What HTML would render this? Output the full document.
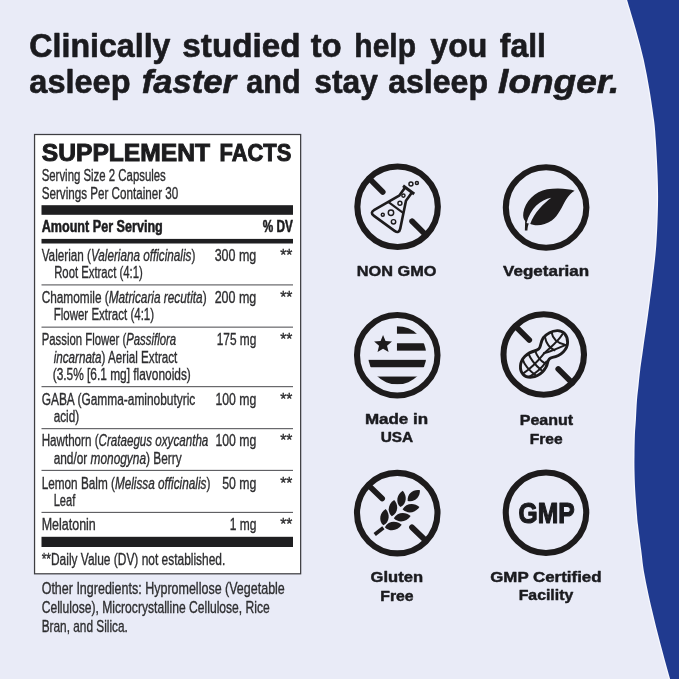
<!DOCTYPE html>
<html lang="en"><head><meta charset="utf-8"><title>Supplement Facts</title>
<style>
html,body{margin:0;padding:0;background:#e9ebf7;}
body{width:679px;height:679px;overflow:hidden;}
svg{display:block;font-family:"Liberation Sans",sans-serif;}
</style></head><body>
<svg width="679" height="679" viewBox="0 0 679 679">
<rect width="679" height="679" fill="#e9ebf7"/>
<path d="M 627.10 0.00 C 628.58 5.00 633.22 20.00 636.00 30.00 C 638.78 40.00 641.55 50.00 643.80 60.00 C 646.05 70.00 647.80 80.00 649.50 90.00 C 651.20 100.00 652.95 111.67 654.00 120.00 C 655.05 128.33 655.20 130.83 655.80 140.00 C 656.40 149.17 657.23 164.17 657.60 175.00 C 657.97 185.83 658.22 193.33 658.00 205.00 C 657.78 216.67 657.20 232.50 656.30 245.00 C 655.40 257.50 653.65 270.83 652.60 280.00 C 651.55 289.17 650.77 294.17 650.00 300.00 C 649.23 305.83 649.17 306.67 648.00 315.00 C 646.83 323.33 644.30 340.83 643.00 350.00 C 641.70 359.17 640.93 364.17 640.20 370.00 C 639.47 375.83 639.13 380.00 638.60 385.00 C 638.07 390.00 637.45 394.17 637.00 400.00 C 636.55 405.83 636.25 414.17 635.90 420.00 C 635.55 425.83 635.13 429.17 634.90 435.00 C 634.67 440.83 634.57 449.17 634.50 455.00 C 634.43 460.83 634.38 464.17 634.50 470.00 C 634.62 475.83 634.78 482.50 635.20 490.00 C 635.62 497.50 636.53 509.17 637.00 515.00 C 637.47 520.83 637.30 519.17 638.00 525.00 C 638.70 530.83 640.13 541.83 641.20 550.00 C 642.27 558.17 642.63 564.17 644.40 574.00 C 646.17 583.83 649.12 597.33 651.80 609.00 C 654.48 620.67 657.45 632.33 660.50 644.00 C 663.55 655.67 668.50 673.17 670.10 679.00" fill="none" stroke="#f7f8fe" stroke-width="2.6"/>
<path d="M 627.10 0.00 C 628.58 5.00 633.22 20.00 636.00 30.00 C 638.78 40.00 641.55 50.00 643.80 60.00 C 646.05 70.00 647.80 80.00 649.50 90.00 C 651.20 100.00 652.95 111.67 654.00 120.00 C 655.05 128.33 655.20 130.83 655.80 140.00 C 656.40 149.17 657.23 164.17 657.60 175.00 C 657.97 185.83 658.22 193.33 658.00 205.00 C 657.78 216.67 657.20 232.50 656.30 245.00 C 655.40 257.50 653.65 270.83 652.60 280.00 C 651.55 289.17 650.77 294.17 650.00 300.00 C 649.23 305.83 649.17 306.67 648.00 315.00 C 646.83 323.33 644.30 340.83 643.00 350.00 C 641.70 359.17 640.93 364.17 640.20 370.00 C 639.47 375.83 639.13 380.00 638.60 385.00 C 638.07 390.00 637.45 394.17 637.00 400.00 C 636.55 405.83 636.25 414.17 635.90 420.00 C 635.55 425.83 635.13 429.17 634.90 435.00 C 634.67 440.83 634.57 449.17 634.50 455.00 C 634.43 460.83 634.38 464.17 634.50 470.00 C 634.62 475.83 634.78 482.50 635.20 490.00 C 635.62 497.50 636.53 509.17 637.00 515.00 C 637.47 520.83 637.30 519.17 638.00 525.00 C 638.70 530.83 640.13 541.83 641.20 550.00 C 642.27 558.17 642.63 564.17 644.40 574.00 C 646.17 583.83 649.12 597.33 651.80 609.00 C 654.48 620.67 657.45 632.33 660.50 644.00 C 663.55 655.67 668.50 673.17 670.10 679.00 L 679 679 L 679 0 Z" fill="#203a8f"/>
<text x="29.34" y="56.90" font-size="32.90" font-weight="bold" fill="#1b1b1f" stroke="#1b1b1f" stroke-width="0.63" stroke-linejoin="round" textLength="141.18" lengthAdjust="spacingAndGlyphs">Clinically</text>
<text x="182.34" y="56.90" font-size="32.90" font-weight="bold" fill="#1b1b1f" stroke="#1b1b1f" stroke-width="0.63" stroke-linejoin="round" textLength="118.18" lengthAdjust="spacingAndGlyphs">studied</text>
<text x="310.84" y="56.90" font-size="32.90" font-weight="bold" fill="#1b1b1f" stroke="#1b1b1f" stroke-width="0.63" stroke-linejoin="round" textLength="30.68" lengthAdjust="spacingAndGlyphs">to</text>
<text x="354.34" y="56.90" font-size="32.90" font-weight="bold" fill="#1b1b1f" stroke="#1b1b1f" stroke-width="0.63" stroke-linejoin="round" textLength="61.68" lengthAdjust="spacingAndGlyphs">help</text>
<text x="430.34" y="56.90" font-size="32.90" font-weight="bold" fill="#1b1b1f" stroke="#1b1b1f" stroke-width="0.63" stroke-linejoin="round" textLength="56.98" lengthAdjust="spacingAndGlyphs">you</text>
<text x="499.84" y="56.90" font-size="32.90" font-weight="bold" fill="#1b1b1f" stroke="#1b1b1f" stroke-width="0.63" stroke-linejoin="round" textLength="46.18" lengthAdjust="spacingAndGlyphs">fall</text>
<text x="29.34" y="92.90" font-size="32.90" font-weight="bold" fill="#1b1b1f" stroke="#1b1b1f" stroke-width="0.63" stroke-linejoin="round" textLength="101.18" lengthAdjust="spacingAndGlyphs">asleep</text>
<text x="141.84" y="92.90" font-size="32.90" font-weight="bold" font-style="italic" fill="#1b1b1f" stroke="#1b1b1f" stroke-width="0.63" stroke-linejoin="round" textLength="94.18" lengthAdjust="spacingAndGlyphs">faster</text>
<text x="246.34" y="92.90" font-size="32.90" font-weight="bold" fill="#1b1b1f" stroke="#1b1b1f" stroke-width="0.63" stroke-linejoin="round" textLength="54.18" lengthAdjust="spacingAndGlyphs">and</text>
<text x="314.34" y="92.90" font-size="32.90" font-weight="bold" fill="#1b1b1f" stroke="#1b1b1f" stroke-width="0.63" stroke-linejoin="round" textLength="63.68" lengthAdjust="spacingAndGlyphs">stay</text>
<text x="388.14" y="92.90" font-size="32.90" font-weight="bold" fill="#1b1b1f" stroke="#1b1b1f" stroke-width="0.63" stroke-linejoin="round" textLength="99.88" lengthAdjust="spacingAndGlyphs">asleep</text>
<text x="498.14" y="92.90" font-size="32.90" font-weight="bold" font-style="italic" fill="#1b1b1f" stroke="#1b1b1f" stroke-width="0.63" stroke-linejoin="round" textLength="121.18" lengthAdjust="spacingAndGlyphs">longer.</text>
<rect x="34.55" y="134.5" width="266.1" height="439.3" fill="#ffffff" stroke="#3e3e42" stroke-width="1.25"/>
<text x="41.80" y="160.70" font-size="24.80" font-weight="bold" fill="#1c1c1e" stroke="#1c1c1e" stroke-width="1.00" textLength="168.19" lengthAdjust="spacingAndGlyphs">SUPPLEMENT</text>
<text x="219.50" y="160.70" font-size="24.80" font-weight="bold" fill="#1c1c1e" stroke="#1c1c1e" stroke-width="1.00" textLength="71.79" lengthAdjust="spacingAndGlyphs">FACTS</text>
<text x="41.68" y="181.25" font-size="16.00" font-weight="normal" fill="#2e2e30" stroke="#2e2e30" stroke-width="0.35" textLength="124.14" lengthAdjust="spacingAndGlyphs">Serving Size 2 Capsules</text>
<text x="41.68" y="198.75" font-size="16.00" font-weight="normal" fill="#2e2e30" stroke="#2e2e30" stroke-width="0.35" textLength="136.64" lengthAdjust="spacingAndGlyphs">Servings Per Container 30</text>
<rect x="41.50" y="205.20" width="251.50" height="9.60" fill="#1f1f21"/>
<text x="41.68" y="232.00" font-size="15.80" font-weight="bold" fill="#1c1c1e" stroke="#1c1c1e" stroke-width="0.55" textLength="121.13" lengthAdjust="spacingAndGlyphs">Amount Per Serving</text>
<text x="262.68" y="232.00" font-size="15.80" font-weight="bold" fill="#1c1c1e" stroke="#1c1c1e" stroke-width="0.55" textLength="30.13" lengthAdjust="spacingAndGlyphs">% DV</text>
<rect x="41.50" y="238.90" width="251.50" height="4.60" fill="#1f1f21"/>
<text x="41.68" y="261.25" font-size="16.00" font-weight="normal" fill="#2e2e30" stroke="#2e2e30" stroke-width="0.35" textLength="153.64" lengthAdjust="spacingAndGlyphs">Valerian (<tspan font-style="italic">Valeriana officinalis</tspan>)</text>
<text x="214.68" y="261.25" font-size="16.00" font-weight="normal" fill="#2e2e30" stroke="#2e2e30" stroke-width="0.35" textLength="41.64" lengthAdjust="spacingAndGlyphs">300 mg</text>
<text x="280.18" y="261.25" font-size="16.00" font-weight="normal" fill="#2e2e30" stroke="#2e2e30" stroke-width="0.35" textLength="12.14" lengthAdjust="spacingAndGlyphs">**</text>
<text x="54.18" y="278.40" font-size="16.00" font-weight="normal" fill="#2e2e30" stroke="#2e2e30" stroke-width="0.35" textLength="88.64" lengthAdjust="spacingAndGlyphs">Root Extract (4:1)</text>
<rect x="41.5" y="284.35" width="251.5" height="1.1" fill="#59595d"/>
<text x="41.68" y="302.50" font-size="16.00" font-weight="normal" fill="#2e2e30" stroke="#2e2e30" stroke-width="0.35" textLength="164.89" lengthAdjust="spacingAndGlyphs">Chamomile (<tspan font-style="italic">Matricaria recutita</tspan>)</text>
<text x="214.68" y="302.50" font-size="16.00" font-weight="normal" fill="#2e2e30" stroke="#2e2e30" stroke-width="0.35" textLength="41.64" lengthAdjust="spacingAndGlyphs">200 mg</text>
<text x="280.18" y="302.50" font-size="16.00" font-weight="normal" fill="#2e2e30" stroke="#2e2e30" stroke-width="0.35" textLength="12.14" lengthAdjust="spacingAndGlyphs">**</text>
<text x="53.68" y="320.00" font-size="16.00" font-weight="normal" fill="#2e2e30" stroke="#2e2e30" stroke-width="0.35" textLength="100.39" lengthAdjust="spacingAndGlyphs">Flower Extract (4:1)</text>
<rect x="41.5" y="326.60" width="251.5" height="1.1" fill="#59595d"/>
<text x="41.68" y="344.50" font-size="16.00" font-weight="normal" fill="#2e2e30" stroke="#2e2e30" stroke-width="0.35" textLength="134.39" lengthAdjust="spacingAndGlyphs">Passion Flower (<tspan font-style="italic">Passiflora</tspan></text>
<text x="216.68" y="344.50" font-size="16.00" font-weight="normal" fill="#2e2e30" stroke="#2e2e30" stroke-width="0.35" textLength="39.64" lengthAdjust="spacingAndGlyphs">175 mg</text>
<text x="280.18" y="344.50" font-size="16.00" font-weight="normal" fill="#2e2e30" stroke="#2e2e30" stroke-width="0.35" textLength="12.14" lengthAdjust="spacingAndGlyphs">**</text>
<text x="53.68" y="362.50" font-size="16.00" font-weight="normal" fill="#2e2e30" stroke="#2e2e30" stroke-width="0.35" textLength="123.64" lengthAdjust="spacingAndGlyphs"><tspan font-style="italic">incarnata</tspan>) Aerial Extract</text>
<text x="52.68" y="379.50" font-size="16.00" font-weight="normal" fill="#2e2e30" stroke="#2e2e30" stroke-width="0.35" textLength="138.14" lengthAdjust="spacingAndGlyphs">(3.5% [6.1 mg] flavonoids)</text>
<rect x="41.5" y="386.10" width="251.5" height="1.1" fill="#59595d"/>
<text x="41.68" y="404.50" font-size="16.00" font-weight="normal" fill="#2e2e30" stroke="#2e2e30" stroke-width="0.35" textLength="153.64" lengthAdjust="spacingAndGlyphs">GABA (Gamma-aminobutyric</text>
<text x="215.43" y="404.50" font-size="16.00" font-weight="normal" fill="#2e2e30" stroke="#2e2e30" stroke-width="0.35" textLength="40.89" lengthAdjust="spacingAndGlyphs">100 mg</text>
<text x="280.18" y="404.50" font-size="16.00" font-weight="normal" fill="#2e2e30" stroke="#2e2e30" stroke-width="0.35" textLength="12.14" lengthAdjust="spacingAndGlyphs">**</text>
<text x="53.68" y="422.00" font-size="16.00" font-weight="normal" fill="#2e2e30" stroke="#2e2e30" stroke-width="0.35" textLength="25.39" lengthAdjust="spacingAndGlyphs">acid)</text>
<rect x="41.5" y="428.10" width="251.5" height="1.1" fill="#59595d"/>
<text x="41.68" y="446.25" font-size="16.00" font-weight="normal" fill="#2e2e30" stroke="#2e2e30" stroke-width="0.35" textLength="166.64" lengthAdjust="spacingAndGlyphs">Hawthorn (<tspan font-style="italic">Crataegus oxycantha</tspan></text>
<text x="215.43" y="446.25" font-size="16.00" font-weight="normal" fill="#2e2e30" stroke="#2e2e30" stroke-width="0.35" textLength="40.89" lengthAdjust="spacingAndGlyphs">100 mg</text>
<text x="280.18" y="446.25" font-size="16.00" font-weight="normal" fill="#2e2e30" stroke="#2e2e30" stroke-width="0.35" textLength="12.14" lengthAdjust="spacingAndGlyphs">**</text>
<text x="53.68" y="463.75" font-size="16.00" font-weight="normal" fill="#2e2e30" stroke="#2e2e30" stroke-width="0.35" textLength="127.89" lengthAdjust="spacingAndGlyphs">and/or <tspan font-style="italic">monogyna</tspan>) Berry</text>
<rect x="41.5" y="469.85" width="251.5" height="1.1" fill="#59595d"/>
<text x="41.68" y="488.75" font-size="16.00" font-weight="normal" fill="#2e2e30" stroke="#2e2e30" stroke-width="0.35" textLength="168.64" lengthAdjust="spacingAndGlyphs">Lemon Balm (<tspan font-style="italic">Melissa officinalis</tspan>)</text>
<text x="222.18" y="488.75" font-size="16.00" font-weight="normal" fill="#2e2e30" stroke="#2e2e30" stroke-width="0.35" textLength="34.14" lengthAdjust="spacingAndGlyphs">50 mg</text>
<text x="280.18" y="488.75" font-size="16.00" font-weight="normal" fill="#2e2e30" stroke="#2e2e30" stroke-width="0.35" textLength="12.14" lengthAdjust="spacingAndGlyphs">**</text>
<text x="53.68" y="505.50" font-size="16.00" font-weight="normal" fill="#2e2e30" stroke="#2e2e30" stroke-width="0.35" textLength="21.64" lengthAdjust="spacingAndGlyphs">Leaf</text>
<rect x="41.5" y="511.85" width="251.5" height="1.1" fill="#59595d"/>
<text x="41.68" y="530.00" font-size="16.00" font-weight="normal" fill="#2e2e30" stroke="#2e2e30" stroke-width="0.35" textLength="54.14" lengthAdjust="spacingAndGlyphs">Melatonin</text>
<text x="229.68" y="530.00" font-size="16.00" font-weight="normal" fill="#2e2e30" stroke="#2e2e30" stroke-width="0.35" textLength="26.64" lengthAdjust="spacingAndGlyphs">1 mg</text>
<text x="280.18" y="530.00" font-size="16.00" font-weight="normal" fill="#2e2e30" stroke="#2e2e30" stroke-width="0.35" textLength="12.14" lengthAdjust="spacingAndGlyphs">**</text>
<rect x="41.50" y="536.80" width="251.50" height="10.20" fill="#1f1f21"/>
<text x="41.68" y="564.50" font-size="16.00" font-weight="normal" fill="#2e2e30" stroke="#2e2e30" stroke-width="0.35" textLength="183.64" lengthAdjust="spacingAndGlyphs">**Daily Value (DV) not established.</text>
<text x="41.67" y="593.50" font-size="16.40" font-weight="normal" fill="#2e2e30" stroke="#2e2e30" stroke-width="0.35" textLength="243.16" lengthAdjust="spacingAndGlyphs">Other Ingredients: Hypromellose (Vegetable</text>
<text x="41.67" y="612.75" font-size="16.40" font-weight="normal" fill="#2e2e30" stroke="#2e2e30" stroke-width="0.35" textLength="228.16" lengthAdjust="spacingAndGlyphs">Cellulose), Microcrystalline Cellulose, Rice</text>
<text x="41.67" y="632.25" font-size="16.40" font-weight="normal" fill="#2e2e30" stroke="#2e2e30" stroke-width="0.35" textLength="86.16" lengthAdjust="spacingAndGlyphs">Bran, and Silica.</text>
<circle cx="397.60" cy="206.80" r="40.25" fill="none" stroke="#1d1b1c" stroke-width="6.10"/>
<g stroke="#1d1b1c" stroke-width="5.70" stroke-linecap="round">
<line x1="369.32" y1="178.52" x2="382.75" y2="191.95"/>
<line x1="412.10" y1="221.30" x2="425.88" y2="235.08"/>
</g>
<g transform="translate(396.40 206.70) rotate(36)" fill="none" stroke="#1d1b1c" stroke-width="2.6" stroke-linejoin="round" stroke-linecap="round">
<path d="M -6.9 -20.8 H 6.9" stroke-width="3" stroke-linecap="butt"/>
<path d="M -4.2 -20 V -10.5 L -16 15.5 Q -18.2 20.6 -12.7 20.6 H 12.7 Q 18.2 20.6 16 15.5 L 4.2 -10.5 V -20"/>
<path d="M -9 1 H 9" stroke-width="2.1" stroke-linecap="butt"/>
</g>
<g fill="none" stroke="#1d1b1c" stroke-width="1.45">
<circle cx="410.96" cy="183.95" r="2.00"/>
<circle cx="416.90" cy="183.01" r="1.50"/>
<circle cx="403.42" cy="195.55" r="1.60"/>
<circle cx="399.93" cy="203.28" r="2.00"/>
<circle cx="390.98" cy="212.70" r="2.70"/>
<circle cx="382.78" cy="214.77" r="1.50"/>
<circle cx="393.52" cy="221.84" r="2.20"/>
</g>
<text x="356.81" y="276.05" font-size="14.50" font-weight="bold" fill="#1b1b1f" stroke="#1b1b1f" stroke-width="0.45" stroke-linejoin="round" textLength="79.62" lengthAdjust="spacingAndGlyphs">NON GMO</text>
<circle cx="546.10" cy="207.50" r="40.25" fill="none" stroke="#1d1b1c" stroke-width="6.10"/>
<path d="M 574.62 190.63 C 568.78 188.74 557.47 187.43 547.10 189.31 C 534.85 191.67 524.95 201.56 523.35 212.87 C 522.79 216.64 523.54 219.47 525.14 221.07 L 524.86 230.40 L 527.40 230.59 C 527.59 227.01 528.06 224.84 529.20 223.24 C 534.85 226.73 544.28 225.79 551.82 220.60 C 558.41 215.89 562.18 206.46 565.95 199.87 C 568.78 195.15 571.61 192.33 574.62 190.63 Z" fill="#1d1b1c"/>
<path d="M 551.25 197.70 C 540.69 199.68 530.33 208.16 526.56 223.05 L 530.14 223.99 C 534.47 212.12 543.52 203.64 551.25 197.70 Z" fill="#e9ebf7"/>
<text x="503.11" y="276.30" font-size="14.50" font-weight="bold" fill="#1b1b1f" stroke="#1b1b1f" stroke-width="0.45" stroke-linejoin="round" textLength="85.92" lengthAdjust="spacingAndGlyphs">Vegetarian</text>
<circle cx="397.25" cy="355.25" r="40.25" fill="none" stroke="#1d1b1c" stroke-width="6.10"/>
<clipPath id="usa"><circle cx="397.25" cy="355.25" r="29.1"/></clipPath>
<g clip-path="url(#usa)" fill="#1d1b1c">
<rect x="396.95" y="326.15" width="40" height="7.6"/>
<rect x="396.95" y="343.25" width="40" height="7.4"/>
<rect x="357.25" y="359.85" width="80" height="7.4"/>
<rect x="357.25" y="376.55" width="80" height="8"/>
</g>
<polygon points="383.05,335.05 385.52,341.05 391.99,341.55 387.04,345.75 388.58,352.05 383.05,348.65 377.52,352.05 379.06,345.75 374.11,341.55 380.58,341.05" fill="#1d1b1c"/>
<text x="364.91" y="424.30" font-size="14.50" font-weight="bold" fill="#1b1b1f" stroke="#1b1b1f" stroke-width="0.45" stroke-linejoin="round" textLength="63.22" lengthAdjust="spacingAndGlyphs">Made in</text>
<text x="380.71" y="441.80" font-size="14.50" font-weight="bold" fill="#1b1b1f" stroke="#1b1b1f" stroke-width="0.45" stroke-linejoin="round" textLength="32.52" lengthAdjust="spacingAndGlyphs">USA</text>
<circle cx="543.75" cy="354.50" r="40.25" fill="none" stroke="#1d1b1c" stroke-width="6.10"/>
<g stroke="#1d1b1c" stroke-width="5.70" stroke-linecap="round">
<line x1="515.47" y1="326.22" x2="529.25" y2="340.00"/>
<line x1="558.25" y1="369.00" x2="572.03" y2="382.78"/>
</g>
<g fill="none" stroke="#1d1b1c" stroke-linecap="round" stroke-linejoin="round">
<path d="M 543.10 338.02 C 545.93 334.72 551.59 330.95 557.24 330.67 C 563.37 330.48 567.61 335.20 567.61 342.26 C 567.61 349.33 561.01 355.93 552.53 357.34 C 549.23 358.00 548.29 359.23 547.63 362.53 C 546.40 369.13 540.28 376.19 531.79 377.14 C 524.25 377.80 520.01 372.90 520.48 365.83 C 520.95 358.76 527.08 352.63 535.09 350.75 C 538.86 349.80 539.80 348.39 540.56 345.09 C 541.22 342.26 541.69 339.91 543.10 338.02 Z" stroke-width="2.9"/>
<path d="M 523.31 373.37 C 530.85 368.18 537.45 361.59 543.10 354.52 C 548.76 348.39 557.24 342.74 562.42 334.25" stroke-width="2.0"/>
<path d="M 529.44 376.67 C 535.56 373.37 542.16 367.24 546.40 361.59" stroke-width="2.0"/>
<path d="M 544.05 353.10 C 549.70 352.16 559.13 347.45 566.67 344.62" stroke-width="2.0"/>
<path d="M 551.59 332.37 C 552.53 338.02 556.30 342.74 564.78 344.62" stroke-width="2.0"/>
<path d="M 544.99 337.08 C 545.93 342.74 549.70 348.39 554.41 350.28" stroke-width="2.0"/>
<path d="M 535.09 350.75 C 536.51 354.99 540.28 360.64 544.99 363.47" stroke-width="2.0"/>
<path d="M 528.49 353.57 C 530.38 358.76 534.62 364.41 541.22 370.07" stroke-width="2.0"/>
<path d="M 522.84 359.70 C 524.25 364.41 528.97 370.07 535.56 375.25" stroke-width="2.0"/>
</g>
<text x="519.71" y="425.40" font-size="14.50" font-weight="bold" fill="#1b1b1f" stroke="#1b1b1f" stroke-width="0.45" stroke-linejoin="round" textLength="53.42" lengthAdjust="spacingAndGlyphs">Peanut</text>
<text x="529.71" y="444.00" font-size="14.50" font-weight="bold" fill="#1b1b1f" stroke="#1b1b1f" stroke-width="0.45" stroke-linejoin="round" textLength="32.92" lengthAdjust="spacingAndGlyphs">Free</text>
<circle cx="397.25" cy="513.10" r="40.25" fill="none" stroke="#1d1b1c" stroke-width="6.10"/>
<g stroke="#1d1b1c" stroke-width="5.70" stroke-linecap="round">
<line x1="368.48" y1="485.31" x2="382.14" y2="498.51"/>
<line x1="412.00" y1="527.34" x2="426.02" y2="540.89"/>
</g>
<g fill="#1d1b1c">
<path d="M 407.70 500.93 C 406.85 493.76 413.51 489.07 419.94 490.29 C 420.25 496.83 414.68 502.77 407.70 500.93 Z"/>
<path d="M 400.36 507.11 C 395.06 502.14 397.09 494.05 402.78 490.70 C 407.26 495.56 406.87 503.88 400.36 507.11 Z"/>
<path d="M 391.78 516.35 C 386.48 511.37 388.51 503.29 394.20 499.94 C 398.69 504.79 398.29 513.12 391.78 516.35 Z"/>
<path d="M 383.30 525.30 C 378.00 520.33 380.03 512.24 385.72 508.89 C 390.20 513.75 389.81 522.07 383.30 525.30 Z"/>
<path d="M 402.59 509.32 C 405.96 502.82 414.48 502.46 419.39 506.96 C 415.91 512.65 407.63 514.65 402.59 509.32 Z"/>
<path d="M 393.83 518.28 C 397.20 511.77 405.71 511.42 410.63 515.92 C 407.14 521.60 398.86 523.60 393.83 518.28 Z"/>
<path d="M 384.88 527.23 C 388.24 520.73 396.76 520.37 401.68 524.87 C 398.19 530.55 389.91 532.56 384.88 527.23 Z"/>
</g>
<line x1="374.71" y1="534.44" x2="383.38" y2="527.84" stroke="#1d1b1c" stroke-width="3.8"/>
<text x="370.61" y="582.40" font-size="14.50" font-weight="bold" fill="#1b1b1f" stroke="#1b1b1f" stroke-width="0.45" stroke-linejoin="round" textLength="52.42" lengthAdjust="spacingAndGlyphs">Gluten</text>
<text x="380.31" y="600.50" font-size="14.50" font-weight="bold" fill="#1b1b1f" stroke="#1b1b1f" stroke-width="0.45" stroke-linejoin="round" textLength="33.32" lengthAdjust="spacingAndGlyphs">Free</text>
<circle cx="546.00" cy="512.70" r="40.25" fill="none" stroke="#1d1b1c" stroke-width="6.10"/>
<text x="518.61" y="523.20" font-size="29.60" font-weight="bold" fill="#1b1b1f" stroke="#1b1b1f" stroke-width="1.20" stroke-linejoin="round" textLength="56.17" lengthAdjust="spacingAndGlyphs">GMP</text>
<text x="490.21" y="581.70" font-size="14.50" font-weight="bold" fill="#1b1b1f" stroke="#1b1b1f" stroke-width="0.45" stroke-linejoin="round" textLength="111.32" lengthAdjust="spacingAndGlyphs">GMP Certified</text>
<text x="518.71" y="599.60" font-size="14.50" font-weight="bold" fill="#1b1b1f" stroke="#1b1b1f" stroke-width="0.45" stroke-linejoin="round" textLength="54.52" lengthAdjust="spacingAndGlyphs">Facility</text>
</svg>
</body></html>
